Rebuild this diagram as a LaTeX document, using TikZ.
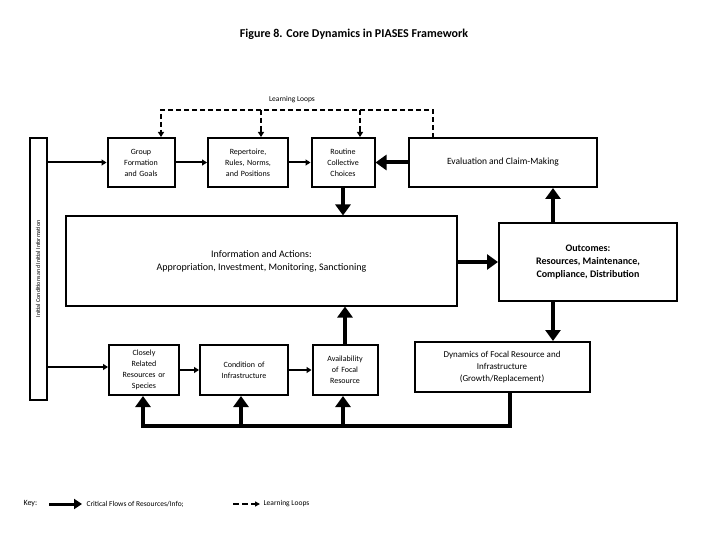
\documentclass[tikz,border=0pt]{standalone}
\usepackage{fontspec}
\setmainfont{Carlito}
\usetikzlibrary{arrows.meta}
\begin{document}
\begin{tikzpicture}[x=1pt,y=-1pt,
  box/.style={draw,line width=2pt,inner sep=1pt,align=center,font=\fontsize{8}{11}\selectfont},
  thk/.style={line width=4pt,-{Triangle[length=11pt,width=15pt]}},
  thn/.style={line width=2pt,-{Triangle[length=5pt,width=6pt]}},
  dashln/.style={line width=1.5pt,dash pattern=on 5pt off 3pt}]
\useasboundingbox (0,0) rectangle (720,540);
\node[font=\bfseries\fontsize{12}{14}\selectfont] (title) at (354,34) {Figure 8. Core Dynamics in PIASES Framework};
% left bar
\node[box,minimum width=17pt,minimum height=262pt] (bar) at (38,269) {};
\node[rotate=90,font=\fontsize{6}{7}\selectfont] (bartxt) at (38,269) {Initial Conditions and Initial Information};
% top boxes
\node[box,minimum width=67pt,minimum height=49pt,text width=60pt] (grp) at (141,162.5) {Group\\Formation\\and Goals};
\node[box,minimum width=80pt,minimum height=49pt,text width=76pt] (rep) at (248,162.5) {Repertoire,\\Rules, Norms,\\and Positions};
\node[box,minimum width=63pt,minimum height=49pt,text width=58pt] (rout) at (343,162.5) {Routine\\Collective\\Choices};
\node[box,minimum width=188pt,minimum height=49pt,font=\fontsize{9.5}{11}\selectfont] (eval) at (503,162.5) {Evaluation and Claim-Making};
% middle
\node[box,minimum width=391pt,minimum height=89pt,font=\fontsize{10}{13}\selectfont] (info) at (261.5,261) {Information and Actions:\\Appropriation, Investment, Monitoring, Sanctioning};
\node[box,minimum width=178pt,minimum height=78pt,font=\bfseries\fontsize{10}{13}\selectfont] (out) at (588,262) {Outcomes:\\Resources, Maintenance,\\Compliance, Distribution};
% bottom boxes
\node[box,minimum width=70pt,minimum height=50pt,text width=66pt] (clos) at (144,370) {Closely\\Related\\Resources or\\Species};
\node[box,minimum width=88pt,minimum height=50pt,text width=84pt] (cond) at (244,370) {Condition of\\Infrastructure};
\node[box,minimum width=65pt,minimum height=50pt,text width=60pt] (avail) at (345,370) {Availability\\of Focal\\Resource};
\node[box,minimum width=175pt,minimum height=50pt,font=\fontsize{9}{12}\selectfont] (dyn) at (502,367) {Dynamics of Focal Resource and\\Infrastructure\\(Growth/Replacement)};
% learning loops
\node[font=\fontsize{7.5}{9}\selectfont] (ll) at (292,100) {Learning Loops};
\coordinate (d1) at (161,110); \coordinate (d4) at (433,110);
\draw[dashln] (433,138) -- (d4) -- (d1) -- (161,132);
\draw[-{Triangle[length=5pt,width=6pt]},line width=1.5pt] (161,130) -- (grp.north -| 161,0);
\draw[dashln] (261,110) -- (261,132);
\draw[-{Triangle[length=5pt,width=6pt]},line width=1.5pt] (261,130) -- (rep.north -| 261,0);
\draw[dashln] (360,110) -- (360,132);
\draw[-{Triangle[length=5pt,width=6pt]},line width=1.5pt] (360,130) -- (rout.north -| 360,0);
% thin flows
\draw[thn] (bar.east |- grp) -- (grp.west);
\draw[thn] (grp.east) -- (rep.west);
\draw[thn] (rep.east) -- (rout.west);
\draw[thn] (bar.east |- 0,367) -- (clos.west |- 0,367);
\draw[thn] (clos.east) -- (cond.west);
\draw[thn] (cond.east) -- (avail.west);
% thick flows
\draw[thk] (eval.west) -- (rout.east);
\draw[thk] (rout.south) -- (info.north -| rout.south);
\draw[thk] (avail.north) -- (info.south -| avail.north);
\draw[thk] (info.east |- out.west) -- (out.west);
\draw[thk] (out.north -| 553,0) -- (eval.south -| 553,0);
\draw[thk] (out.south -| 553,0) -- (dyn.north -| 553,0);
\coordinate (b1) at (510,426); \coordinate (b2) at (143,426);
\draw[line width=4pt,line join=miter] (dyn.south -| 510,0) -- (b1) -- (b2) -- (143,412);
\draw[thk] (b2) -- (clos.south -| b2);
\draw[thk] (241,426) -- (cond.south -| 241,0);
\draw[thk] (343,426) -- (avail.south -| 343,0);
% key
\node[font=\fontsize{8}{9}\selectfont,anchor=west] (key) at (20,504) {Key:};
\coordinate (k1) at (49,504); \coordinate (k2) at (82,504);
\draw[line width=3pt,-{Triangle[length=8pt,width=10pt]}] (k1) -- (k2);
\node[font=\fontsize{7.5}{9}\selectfont,anchor=west] (kt1) at (83,504) {Critical Flows of Resources/Info;};
\coordinate (k3) at (233,504); \coordinate (k4) at (260,504);
\draw[line width=1.2pt,dash pattern=on 6pt off 3pt,-{Triangle[length=5pt,width=5pt]}] (k3) -- (k4);
\node[font=\fontsize{7.5}{9}\selectfont,anchor=west] (kt2) at (260,504) {Learning Loops};
\end{tikzpicture}
\end{document}
